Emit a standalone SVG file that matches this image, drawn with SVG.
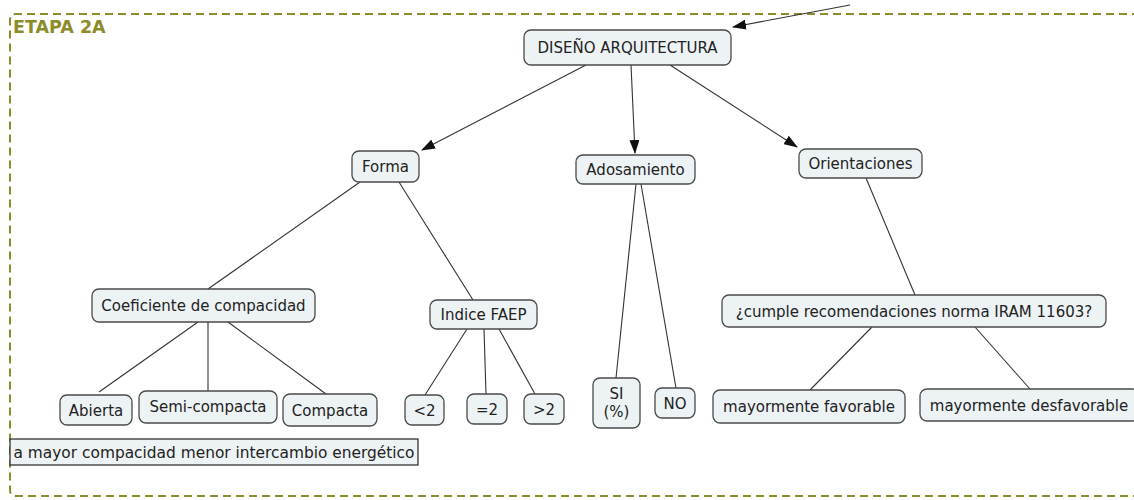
<svg xmlns="http://www.w3.org/2000/svg" width="1134" height="500" viewBox="0 0 1134 500">
<defs>
<style>
.n rect{fill:#edf2f4;stroke:#4a4a4a;stroke-width:1.3}
.n text{font-family:"DejaVu Sans",Verdana,sans-serif;font-size:15px;fill:#222;text-anchor:middle}
.c line{stroke:#333;stroke-width:1.1}
.a{marker-end:url(#ar)}
</style>
<marker id="ar" markerWidth="14" markerHeight="10" refX="13" refY="5" orient="auto" markerUnits="userSpaceOnUse">
<path d="M0,0 L14,5 L0,10 Z" fill="#111"/>
</marker>
</defs>
<rect width="1134" height="500" fill="#fff"/>
<path id="frame" d="M1140,14 L16,14 Q10,14 10,20 L10,490 Q10,496 16,496 L1140,496" fill="none" stroke="#8c8c2a" stroke-width="2" stroke-dasharray="8,5"/>
<text x="13" y="33" font-family="DejaVu Sans,Verdana,sans-serif" font-size="17.5" font-weight="bold" fill="#8c8c2a">ETAPA 2A</text>
<g id="connectors" class="c">
<line class="a" x1="850" y1="5" x2="733" y2="27"/>
<line class="a" x1="586" y1="65" x2="422" y2="150"/>
<line class="a" x1="631" y1="65" x2="635" y2="153"/>
<line class="a" x1="670" y1="65" x2="797" y2="147"/>
<line x1="360" y1="182" x2="208" y2="289"/>
<line x1="399" y1="182" x2="473" y2="300"/>
<line x1="198" y1="322" x2="99" y2="392"/>
<line x1="208" y1="322" x2="208" y2="391"/>
<line x1="228" y1="322" x2="326" y2="394"/>
<line x1="467" y1="329" x2="425" y2="395"/>
<line x1="484" y1="329" x2="486" y2="394"/>
<line x1="499" y1="329" x2="535" y2="394"/>
<line x1="636" y1="184" x2="616" y2="378"/>
<line x1="641" y1="184" x2="676" y2="388"/>
<line x1="866" y1="178" x2="915" y2="295"/>
<line x1="872" y1="327" x2="810" y2="390"/>
<line x1="975" y1="327" x2="1030" y2="389"/>
</g>
<g id="n-diseno" class="n"><rect x="524" y="30" width="207" height="35" rx="7"/><text x="627.5" y="53">DISEÑO ARQUITECTURA</text></g>
<g id="n-forma" class="n"><rect x="352" y="151" width="67" height="31" rx="7"/><text x="385.5" y="172">Forma</text></g>
<g id="n-adosamiento" class="n"><rect x="576" y="155" width="119" height="29" rx="7"/><text x="635.5" y="175">Adosamiento</text></g>
<g id="n-orientaciones" class="n"><rect x="799" y="149" width="123" height="29" rx="7"/><text x="860.5" y="169">Orientaciones</text></g>
<g id="n-coef" class="n"><rect x="92" y="289" width="223" height="33" rx="7"/><text x="203.5" y="311">Coeficiente de compacidad</text></g>
<g id="n-faep" class="n"><rect x="430" y="300" width="107" height="29" rx="7"/><text x="483.5" y="320">Indice FAEP</text></g>
<g id="n-cumple" class="n"><rect x="722" y="295" width="384" height="32" rx="7"/><text x="914" y="317">¿cumple recomendaciones norma IRAM 11603?</text></g>
<g id="n-abierta" class="n"><rect x="60" y="395" width="72" height="30" rx="7"/><text x="96" y="416">Abierta</text></g>
<g id="n-semi" class="n"><rect x="139" y="391" width="138" height="32" rx="7"/><text x="208" y="412">Semi-compacta</text></g>
<g id="n-compacta" class="n"><rect x="283" y="394" width="94" height="32" rx="7"/><text x="330" y="416">Compacta</text></g>
<g id="n-lt2" class="n"><rect x="405" y="395" width="39" height="30" rx="7"/><text x="424.5" y="416">&lt;2</text></g>
<g id="n-eq2" class="n"><rect x="467" y="394" width="40" height="30" rx="7"/><text x="487" y="415">=2</text></g>
<g id="n-gt2" class="n"><rect x="524" y="394" width="40" height="30" rx="7"/><text x="544" y="415">&gt;2</text></g>
<g id="n-si" class="n"><rect x="593" y="378" width="47" height="50" rx="7"/><text x="616.5" y="399">SI</text><text x="616.5" y="417">(%)</text></g>
<g id="n-no" class="n"><rect x="655" y="388" width="40" height="30" rx="7"/><text x="675" y="409">NO</text></g>
<g id="n-fav" class="n"><rect x="713" y="390" width="192" height="33" rx="7"/><text x="809" y="412">mayormente favorable</text></g>
<g id="n-desfav" class="n"><rect x="920" y="389" width="220" height="32" rx="7"/><text x="1029" y="411">mayormente desfavorable</text></g>
<g id="n-nota" class="n"><rect x="10" y="439" width="408" height="26" rx="0" style="stroke:#333"/><text x="214" y="458" style="font-size:15.4px">a mayor compacidad menor intercambio energético</text></g>
</svg>
